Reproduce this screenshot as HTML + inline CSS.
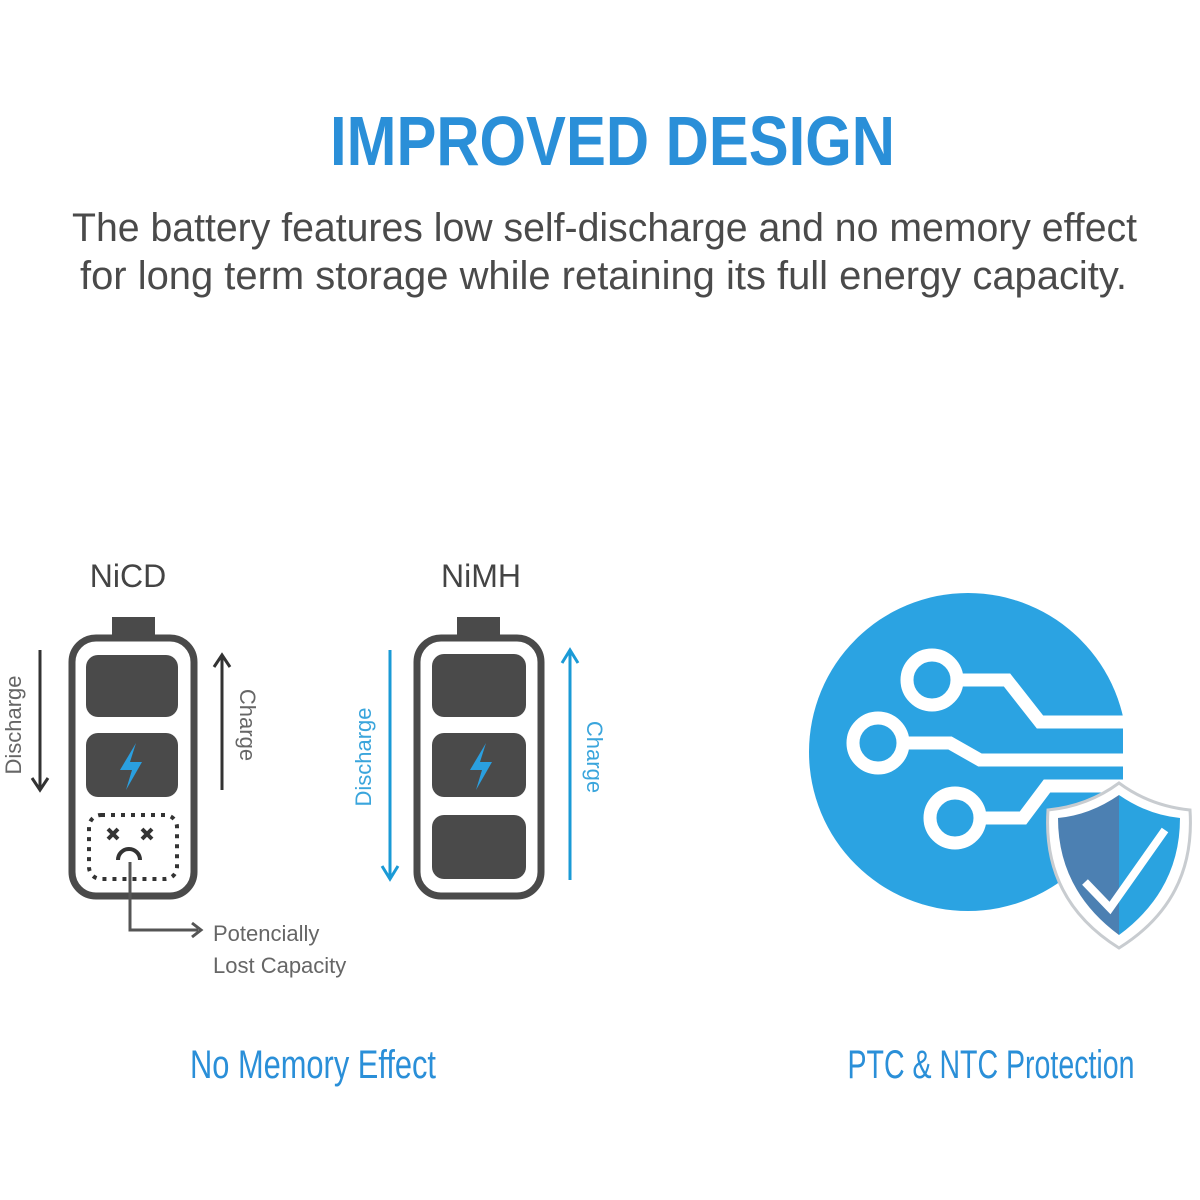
<!DOCTYPE html>
<html><head><meta charset="utf-8"><style>html,body{margin:0;padding:0;background:#fff}svg{display:block}</style></head>
<body>
<svg width="1200" height="1200" viewBox="0 0 1200 1200" xmlns="http://www.w3.org/2000/svg" font-family="Liberation Sans, sans-serif">
<rect width="1200" height="1200" fill="#fff"/>
<text x="330" y="165" font-size="70" font-weight="bold" fill="#2a8fd8" textLength="565" lengthAdjust="spacingAndGlyphs">IMPROVED DESIGN</text>
<text x="72" y="241" font-size="40" fill="#4a4a4a" textLength="1065" lengthAdjust="spacingAndGlyphs">The battery features low self-discharge and no memory effect</text>
<text x="80" y="289" font-size="40" fill="#4a4a4a" textLength="1047" lengthAdjust="spacingAndGlyphs">for long term storage while retaining its full energy capacity.</text>

<!-- NiCD -->
<text x="128" y="587" font-size="32" fill="#444" text-anchor="middle">NiCD</text>
<rect x="112" y="617" width="43" height="22" fill="#4a4a4a"/>
<rect x="72" y="638" width="122" height="258" rx="24" fill="none" stroke="#4a4a4a" stroke-width="7"/>
<rect x="86" y="655" width="92" height="62" rx="12" fill="#4a4a4a"/>
<rect x="86" y="733" width="92" height="64" rx="12" fill="#4a4a4a"/>
<path d="M136 743 L120 770 L132 770 L126 790 L142 762 L130 762 Z" fill="#2a9fe0"/>
<rect x="89" y="815" width="88" height="64" rx="12" fill="none" stroke="#333" stroke-width="4" stroke-dasharray="4 6"/>
<g stroke="#333" stroke-width="4"><path d="M108 829 l10 10 M118 829 l-10 10 M142 829 l10 10 M152 829 l-10 10"/></g>
<path d="M118 860 a11 11 0 0 1 22 0" fill="none" stroke="#333" stroke-width="4"/>
<path d="M130 862 V930 H198" fill="none" stroke="#555" stroke-width="3"/>
<path d="M192 923 L201 930 L192 937" fill="none" stroke="#555" stroke-width="3"/>
<text x="213" y="941" font-size="22" fill="#666">Potencially</text>
<text x="213" y="973" font-size="22" fill="#666">Lost Capacity</text>
<path d="M40 650 V788 M32 778 L40 790 L48 778" fill="none" stroke="#333" stroke-width="3"/>
<path d="M222 790 V657 M214 667 L222 655 L230 667" fill="none" stroke="#333" stroke-width="3"/>
<text transform="translate(21,725) rotate(-90)" font-size="22" fill="#666" text-anchor="middle">Discharge</text>
<text transform="translate(240,725) rotate(90)" font-size="22" fill="#666" text-anchor="middle">Charge</text>

<!-- NiMH -->
<text x="481" y="587" font-size="32" fill="#444" text-anchor="middle">NiMH</text>
<rect x="457" y="617" width="43" height="22" fill="#4a4a4a"/>
<rect x="417" y="638" width="124" height="258" rx="24" fill="none" stroke="#4a4a4a" stroke-width="7"/>
<rect x="432" y="654" width="94" height="63" rx="12" fill="#4a4a4a"/>
<rect x="432" y="733" width="94" height="64" rx="12" fill="#4a4a4a"/>
<path d="M486 743 L470 770 L482 770 L476 790 L492 762 L480 762 Z" fill="#2a9fe0"/>
<rect x="432" y="815" width="94" height="64" rx="12" fill="#4a4a4a"/>
<path d="M390 650 V877 M382 866 L390 879 L398 866" fill="none" stroke="#1a9ad6" stroke-width="3"/>
<path d="M570 880 V652 M562 663 L570 650 L578 663" fill="none" stroke="#1a9ad6" stroke-width="3"/>
<text transform="translate(371,757) rotate(-90)" font-size="22" fill="#3aa5dc" text-anchor="middle">Discharge</text>
<text transform="translate(587,757) rotate(90)" font-size="22" fill="#3aa5dc" text-anchor="middle">Charge</text>

<!-- circuit -->
<defs><clipPath id="c"><rect x="790" y="580" width="333" height="360"/></clipPath></defs>
<circle cx="968" cy="752" r="159" fill="#2ba3e2" clip-path="url(#c)"/>
<g fill="none" stroke="#fff" stroke-width="13">
<circle cx="932" cy="680" r="25"/>
<circle cx="878" cy="743" r="25"/>
<circle cx="955" cy="818" r="25"/>
<path d="M957 680 H1007 L1040 722 H1125"/>
<path d="M903 743 H950 L980 760 H1125"/>
<path d="M980 818 H1023 L1047 786 H1125"/>
</g>
<path d="M1119 783 Q1150 806 1190 810 Q1196 900 1119 948 Q1042 900 1048 810 Q1088 806 1119 783 Z" fill="#fff" stroke="#c8ccd0" stroke-width="3"/>
<path d="M1119 795 Q1090 815 1058 818 Q1058 890 1119 935 Z" fill="#4c80b2"/>
<path d="M1119 795 Q1148 815 1180 818 Q1180 890 1119 935 Z" fill="#2aa3e0"/>
<path d="M1085 882 L1110 908 L1165 830" fill="none" stroke="#fff" stroke-width="8"/>

<text x="313" y="1078" font-size="40" fill="#2a8fd8" text-anchor="middle" textLength="246" lengthAdjust="spacingAndGlyphs">No Memory Effect</text>
<text x="991" y="1078" font-size="40" fill="#2a8fd8" text-anchor="middle" textLength="287" lengthAdjust="spacingAndGlyphs">PTC &amp; NTC Protection</text>
</svg>
</body></html>
